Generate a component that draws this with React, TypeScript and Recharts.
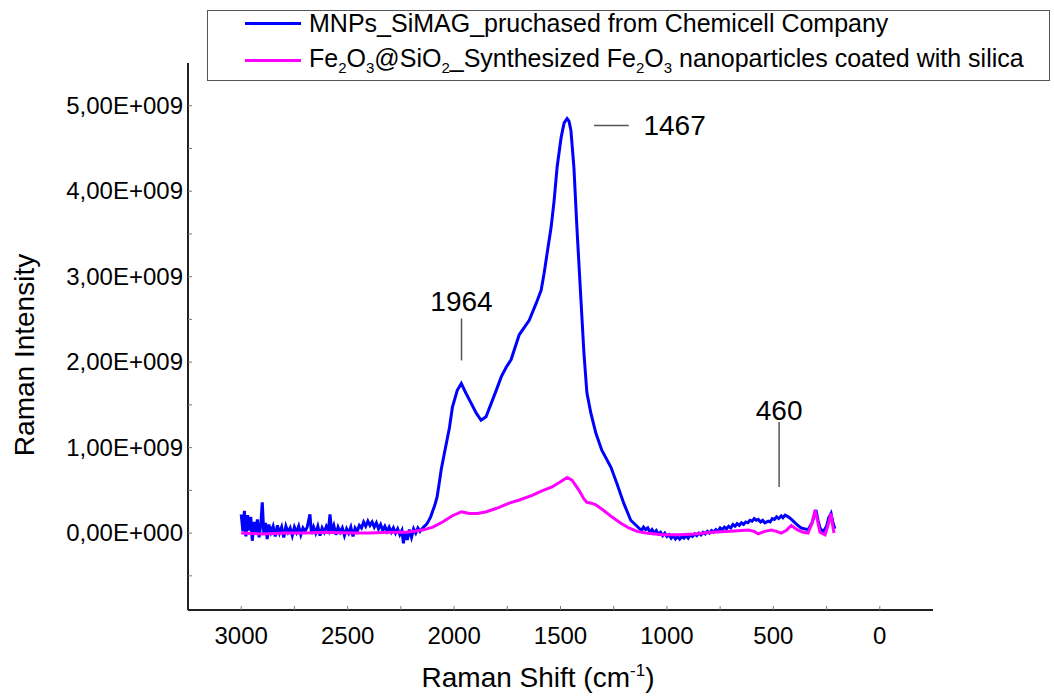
import { LineChart, Line, XAxis, YAxis, ReferenceLine, ReferenceDot } from 'recharts';

// Raman spectra, intensity in units of 1e9
const blueShift = [
  3000, 2992, 2985, 2978, 2970, 2963, 2955, 2948, 2940, 2932, 2924, 2916, 2908, 2901, 2894, 2886, 2878, 2870,
  2860, 2850, 2840, 2830, 2820, 2810, 2800, 2790, 2780, 2770, 2760, 2750, 2740, 2730, 2720, 2710, 2700, 2690,
  2677, 2670, 2660, 2650, 2640, 2630, 2620, 2610, 2600, 2590, 2583, 2575, 2565, 2555, 2545, 2535, 2525, 2515,
  2505, 2495, 2485, 2475, 2465, 2455, 2445, 2435, 2425, 2415, 2405, 2395, 2385, 2375, 2365, 2355, 2345, 2335,
  2325, 2315, 2305, 2295, 2285, 2275, 2265, 2255, 2245, 2238, 2230, 2220, 2210, 2200, 2190, 2180, 2170, 2160,
  2150, 2140, 2130, 2120, 2110, 2100, 2090, 2080, 2070, 2060, 2045, 2022, 2008, 1985, 1966, 1945, 1920, 1895,
  1873, 1850, 1825, 1802, 1778, 1755, 1732, 1694, 1647, 1614, 1591, 1577, 1563, 1544, 1530, 1516, 1497, 1483,
  1469, 1460, 1451, 1437, 1423, 1404, 1390, 1376, 1357, 1334, 1306, 1263, 1235, 1203, 1170, 1132, 1120, 1110,
  1100, 1090, 1080, 1070, 1060, 1050, 1040, 1030, 1020, 1010, 1000, 990, 980, 970, 960, 950, 940, 930, 920,
  910, 900, 890, 880, 870, 860, 850, 840, 830, 820, 810, 800, 790, 780, 770, 760, 750, 740, 730, 720, 710,
  700, 690, 680, 670, 660, 650, 640, 630, 620, 610, 600, 590, 580, 571, 560, 550, 540, 524, 515, 505, 495,
  485, 475, 463, 455, 445, 430, 415, 398, 385, 370, 355, 337, 318, 300, 290, 281, 267, 250, 240, 229, 220, 211,
];
const blueIntensity = [
  0.22, 0.02, 0.26, -0.04, 0.21, 0.03, 0.19, -0.09, 0.13, -0.01, 0.16, -0.05, 0.1, 0.36, 0.0, 0.12, -0.07, 0.1,
  0.01, 0.08, -0.04, 0.09, 0.0, 0.07, -0.05, 0.08, 0.01, 0.06, -0.03, 0.07, 0.01, 0.08, -0.02, 0.06, 0.02, 0.07,
  0.22, -0.01, 0.07, 0.0, 0.08, -0.03, 0.06, 0.01, 0.08, 0.03, 0.22, 0.02, 0.09, -0.02, 0.07, 0.01, 0.06, -0.03,
  0.05, 0.0, 0.07, -0.04, 0.06, 0.02, 0.09, 0.06, 0.13, 0.08, 0.14, 0.09, 0.13, 0.07, 0.12, 0.05, 0.1, 0.03,
  0.08, 0.02, 0.07, 0.01, 0.06, 0.0, 0.05, -0.02, 0.03, -0.12, 0.02, -0.08, 0.04, -0.05, 0.05, 0.0, 0.06, 0.02,
  0.05, 0.08, 0.1, 0.14, 0.19, 0.26, 0.33, 0.42, 0.58, 0.75, 0.94, 1.23, 1.47, 1.67, 1.75, 1.64, 1.52, 1.4,
  1.32, 1.36, 1.52, 1.67, 1.83, 1.94, 2.03, 2.32, 2.49, 2.69, 2.84, 3.04, 3.27, 3.58, 3.89, 4.28, 4.63, 4.8,
  4.85, 4.82, 4.71, 4.28, 3.58, 2.73, 2.11, 1.64, 1.4, 1.17, 0.97, 0.77, 0.58, 0.35, 0.15, 0.06, 0.03, 0.07,
  0.04, 0.06, 0.01, 0.04, 0.0, 0.03, -0.01, 0.01, -0.03, 0.0, -0.04, -0.02, -0.06, -0.03, -0.07, -0.04, -0.07, -0.04, -0.06,
  -0.03, -0.06, -0.02, -0.04, -0.01, -0.03, 0.0, -0.02, 0.01, -0.01, 0.02, 0.0, 0.03, 0.01, 0.04, 0.02, 0.06, 0.04, 0.07, 0.05, 0.08,
  0.06, 0.1, 0.08, 0.11, 0.09, 0.12, 0.1, 0.13, 0.12, 0.15, 0.14, 0.17, 0.15, 0.16, 0.13, 0.15, 0.12, 0.14, 0.13, 0.17, 0.16,
  0.19, 0.17, 0.2, 0.18, 0.21, 0.19, 0.16, 0.12, 0.09, 0.06, 0.05, 0.04, 0.12, 0.27, 0.15, 0.06, 0.01, 0.08, 0.18, 0.23, 0.12, 0.05,
];

const magentaShift = [
  3000, 2900, 2800, 2700, 2600, 2500, 2400, 2300, 2223, 2148, 2100, 2054, 2010, 1965, 1928, 1890, 1848, 1800,
  1741, 1690, 1633, 1590, 1540, 1500, 1469, 1446, 1413, 1390, 1376, 1355, 1334, 1300, 1259, 1220, 1179, 1140,
  1100, 1020, 945, 870, 791, 700, 618, 590, 571, 540, 510, 485, 463, 440, 416, 400, 384, 360, 337, 318, 304,
  292, 281, 257, 242, 229, 222, 215,
];
const magentaIntensity = [
  0.0, -0.01, 0.0, 0.0, 0.01, 0.0, 0.0, 0.01, 0.01, 0.035, 0.07, 0.13, 0.2, 0.25, 0.23, 0.23, 0.25, 0.29,
  0.35, 0.39, 0.44, 0.49, 0.54, 0.6, 0.65, 0.62, 0.5, 0.4, 0.36, 0.35, 0.33, 0.27, 0.19, 0.12, 0.06, 0.02,
  0.0, -0.02, -0.02, -0.01, 0.01, 0.02, 0.035, 0.02, -0.01, 0.02, 0.035, 0.02, 0.0, 0.03, 0.09, 0.06, 0.035, 0.01, 0.0, 0.12, 0.27,
  0.14, 0.01, -0.02, 0.1, 0.23, 0.1, 0.0,
];

const xTicks = [3000, 2750, 2500, 2250, 2000, 1750, 1500, 1250, 1000, 750, 500, 250, 0];
const yTicks = [-0.5, 0, 0.5, 1, 1.5, 2, 2.5, 3, 3.5, 4, 4.5, 5];

const blueData = blueShift.map((x, i) => ({ x, y: blueIntensity[i] }));
const magentaData = magentaShift.map((x, i) => ({ x, y: magentaIntensity[i] }));

const FONT = '"Liberation Sans", Arial, sans-serif';

// 5 -> "5,00E+009", 0 -> "0,00E+000"
const sciLabel = (v: number) => {
  const value = v * 1e9;
  if (value === 0) return '0,00E+000';
  const exp = Math.floor(Math.log10(Math.abs(value)));
  const mant = (value / Math.pow(10, exp)).toFixed(2).replace('.', ',');
  return `${mant}E${exp >= 0 ? '+' : '-'}${String(Math.abs(exp)).padStart(3, '0')}`;
};

const XTick = ({ x, y, payload }: any) => (
  <g>
    <line x1={x} x2={x} y1={y} y2={y - 4} stroke="#777" strokeWidth={1} />
    {payload.value % 500 === 0 && (
      <text x={x} y={y + 34} textAnchor="middle" fontSize={24} fontFamily={FONT} fill="#000">
        {payload.value}
      </text>
    )}
  </g>
);

const YTick = ({ x, y, payload }: any) => (
  <g>
    <line x1={x} x2={x + 4} y1={y} y2={y} stroke="#777" strokeWidth={1} />
    {Number.isInteger(payload.value) && payload.value >= 0 && (
      <text x={x - 5} y={y + 8} textAnchor="end" fontSize={24} fontFamily={FONT} fill="#000">
        {sciLabel(payload.value)}
      </text>
    )}
  </g>
);

const AnnotationText = ({ viewBox, value }: any) => (
  <text
    x={viewBox.x}
    y={viewBox.y + 10}
    textAnchor="middle"
    fontSize={28}
    fontFamily={FONT}
    fill="#000"
  >
    {value}
  </text>
);

const series = [
  { name: 'blue', color: '#0000ff' },
  { name: 'magenta', color: '#ff00ff' },
];

const sub = { fontSize: 15 };

const LegendBox = () => (
  <div
    style={{
      position: 'absolute',
      left: 207,
      top: 10,
      width: 843,
      height: 71,
      border: '1px solid #555',
      boxSizing: 'border-box',
      fontFamily: FONT,
      fontSize: 25,
      color: '#000',
    }}
  >
    {series.map((s, i) => (
      <div
        key={s.name}
        style={{ position: 'absolute', left: 37, top: i === 0 ? -4 : 33, height: 32, display: 'flex', alignItems: 'center', whiteSpace: 'nowrap' }}
      >
        <span style={{ display: 'inline-block', width: 56, height: 3, background: s.color, marginRight: 8 }} />
        {i === 0 ? (
          <span>MNPs_SiMAG_pruchased from Chemicell Company</span>
        ) : (
          <span>
            Fe<sub style={sub}>2</sub>O<sub style={sub}>3</sub>@SiO<sub style={sub}>2</sub>_Synthesized
            Fe<sub style={sub}>2</sub>O<sub style={sub}>3</sub> nanoparticles coated with silica
          </span>
        )}
      </div>
    ))}
  </div>
);

export default function App() {
  return (
    <div style={{ position: 'absolute', left: 0, top: 0, width: 1054, height: 696, background: '#fff' }}>
      <LineChart width={1054} height={696} margin={{ top: 63, right: 121, left: 0, bottom: 0 }}>
        <XAxis
          type="number"
          dataKey="x"
          domain={[-250, 3250]}
          reversed
          ticks={xTicks}
          interval={0}
          tick={<XTick />}
          tickLine={false}
          tickSize={0}
          tickMargin={0}
          height={86}
          axisLine={{ stroke: '#222', strokeWidth: 2 }}
          allowDataOverflow
        />
        <YAxis
          type="number"
          domain={[-0.9, 5.5]}
          ticks={yTicks}
          interval={0}
          tick={<YTick />}
          tickLine={false}
          tickSize={0}
          tickMargin={0}
          width={188}
          axisLine={{ stroke: '#222', strokeWidth: 2 }}
          allowDataOverflow
        />
        <Line
          data={blueData}
          dataKey="y"
          type="linear"
          stroke={series[0].color}
          strokeWidth={3}
          dot={false}
          isAnimationActive={false}
        />
        <Line
          data={magentaData}
          dataKey="y"
          type="linear"
          stroke={series[1].color}
          strokeWidth={3}
          dot={false}
          isAnimationActive={false}
        />
        {/* peak markers */}
        <ReferenceLine segment={[{ x: 1965, y: 2.02 }, { x: 1965, y: 2.51 }]} stroke="#555" strokeWidth={1.5} />
        <ReferenceLine segment={[{ x: 1343, y: 4.77 }, { x: 1179, y: 4.77 }]} stroke="#555" strokeWidth={1.5} />
        <ReferenceLine segment={[{ x: 473, y: 0.54 }, { x: 473, y: 1.3 }]} stroke="#555" strokeWidth={1.5} />
        <ReferenceDot x={1965} y={2.72} r={0} label={<AnnotationText value="1964" />} />
        <ReferenceDot x={964} y={4.77} r={0} label={<AnnotationText value="1467" />} />
        <ReferenceDot x={473} y={1.44} r={0} label={<AnnotationText value="460" />} />
        <text x={24} y={355} transform="rotate(-90 24 355)" textAnchor="middle" dominantBaseline="central" fontSize={28} fontFamily={FONT}>
          Raman Intensity
        </text>
        <text x={538} y={687} textAnchor="middle" fontSize={28} fontFamily={FONT}>
          Raman Shift (cm<tspan dy={-11} fontSize={17}>-1</tspan>
          <tspan dy={11}>)</tspan>
        </text>
      </LineChart>
      <LegendBox />
    </div>
  );
}
